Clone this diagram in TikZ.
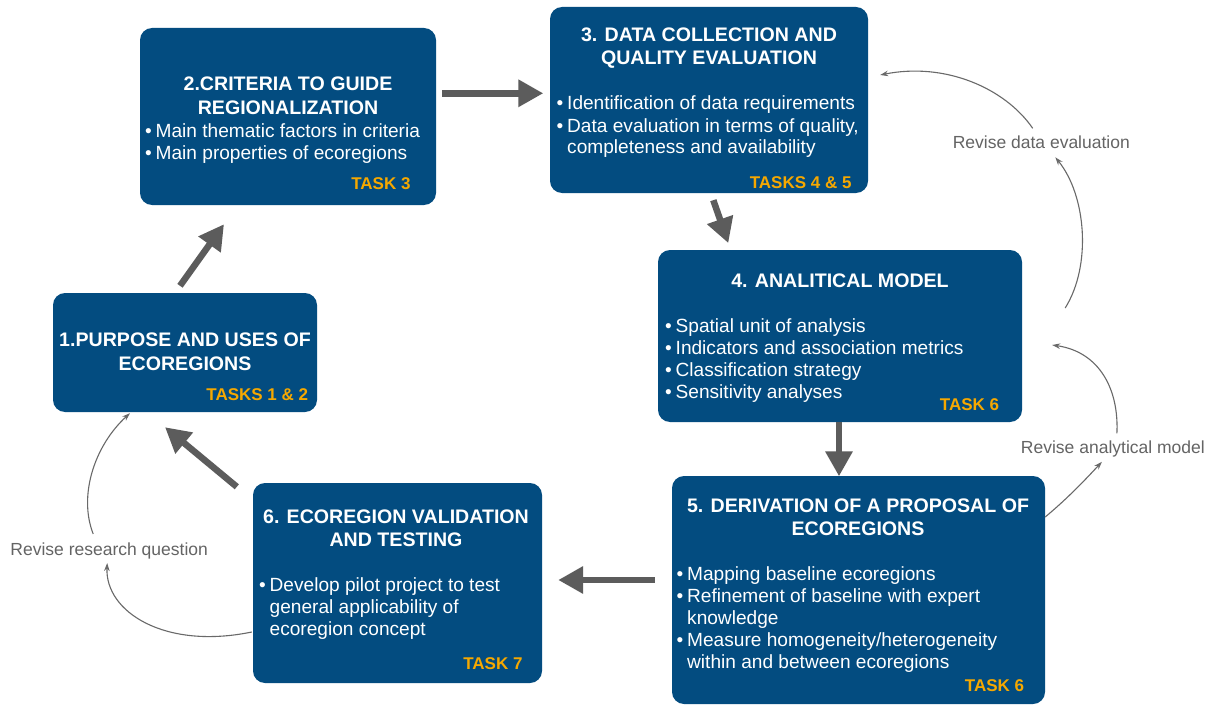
\documentclass[tikz,border=0pt]{standalone}
\usepackage{fontspec}
\setmainfont{Liberation Sans}
\usetikzlibrary{arrows.meta}

\definecolor{boxblue}{RGB}{3,76,128}
\definecolor{taskorange}{RGB}{246,168,0}
\definecolor{flowgray}{RGB}{92,92,92}
\definecolor{loopgray}{RGB}{105,105,105}
\definecolor{labelgray}{RGB}{100,100,100}

% bullet with a fixed gap before the item text
\newcommand{\bul}{\makebox[10.5pt][l]{\textbullet}}

\begin{document}
\begin{tikzpicture}[x=1pt,y=-1pt,
  stage/.style={fill=boxblue, rounded corners=12pt, inner sep=0pt},
  head/.style={text=white, font=\fontsize{19.6}{24}\selectfont\bfseries, inner sep=0pt, anchor=base},
  item/.style={text=white, font=\fontsize{19.1}{22}\selectfont, inner sep=0pt, anchor=base west},
  task/.style={text=taskorange, font=\fontsize{17}{20}\selectfont\bfseries, inner sep=0pt, anchor=base east},
  note/.style={text=labelgray, font=\fontsize{17.5}{20}\selectfont, inner sep=0pt, anchor=base},
  flow/.style={draw=flowgray, line width=6.5pt, -{Triangle[length=25pt,width=26pt]}},
  loop/.style={draw=loopgray, line width=1.1pt, -{Stealth[length=8pt,width=5.5pt]}}
]
\fill[white] (0,0) rectangle (1216,706);
\useasboundingbox (0,0) rectangle (1216,706);

% ---- stage boxes ----
\node[stage, minimum width=264pt, minimum height=119pt] (b1) at (185,352.5) {};
\node[stage, minimum width=296pt, minimum height=177pt] (b2) at (288,116.5) {};
\node[stage, minimum width=318pt, minimum height=186pt] (b3) at (709,100) {};
\node[stage, minimum width=364pt, minimum height=172pt] (b4) at (840,336) {};
\node[stage, minimum width=373pt, minimum height=228pt] (b5) at (858.5,590) {};
\node[stage, minimum width=289pt, minimum height=200pt] (b6) at (397.5,583) {};

% ---- stage 1 ----
\node[head] (b1h1) at (185,346.7) {1.PURPOSE AND USES OF};
\node[head] (b1h2) at (185,370.7) {ECOREGIONS};
\node[task] (b1k) at (308.3,400.7) {TASKS 1 \& 2};

% ---- stage 2 ----
\node[head] (b2h1) at (288,90.7) {2.CRITERIA TO GUIDE};
\node[head] (b2h2) at (288,114.3) {REGIONALIZATION};
\node[item] (b2i1) at (145,137.3) {\bul Main thematic factors in criteria};
\node[item] (b2i2) at (145,159.3) {\bul Main properties of ecoregions};
\node[task] (b2k) at (410.7,189.3) {TASK 3};

% ---- stage 3 ----
\node[head] (b3h1) at (709,41.7) {3. DATA COLLECTION AND};
\node[head] (b3h2) at (709,65) {QUALITY EVALUATION};
\node[item] (b3i1) at (556.5,110) {\bul Identification of data requirements};
\node[item] (b3i2) at (556.5,132.3) {\bul Data evaluation in terms of quality,};
\node[item] (b3i3) at (567,154) {completeness and availability};
\node[task] (b3k) at (851.7,188.3) {TASKS 4 \& 5};

% ---- stage 4 ----
\node[head] (b4h1) at (840,287.7) {4. ANALITICAL MODEL};
\node[item] (b4i1) at (665,332.7) {\bul Spatial unit of analysis};
\node[item] (b4i2) at (665,354.3) {\bul Indicators and association metrics};
\node[item] (b4i3) at (665,376.7) {\bul Classification strategy};
\node[item] (b4i4) at (665,398.3) {\bul Sensitivity analyses};
\node[task] (b4k) at (999.3,410) {TASK 6};

% ---- stage 5 ----
\node[head] (b5h1) at (858,512.7) {5. DERIVATION OF A PROPOSAL OF};
\node[head] (b5h2) at (858,535) {ECOREGIONS};
\node[item] (b5i1) at (676.5,580) {\bul Mapping baseline ecoregions};
\node[item] (b5i2) at (676.5,602) {\bul Refinement of baseline with expert};
\node[item] (b5i3) at (687,624.3) {knowledge};
\node[item] (b5i4) at (676.5,646.7) {\bul Measure homogeneity/heterogeneity};
\node[item] (b5i5) at (687,668.3) {within and between ecoregions};
\node[task] (b5k) at (1024.3,691.7) {TASK 6};

% ---- stage 6 ----
\node[head] (b6h1) at (396,523.3) {6. ECOREGION VALIDATION};
\node[head] (b6h2) at (396,546.7) {AND TESTING};
\node[item] (b6i1) at (259,591.7) {\bul Develop pilot project to test};
\node[item] (b6i2) at (269.5,613.3) {general applicability of};
\node[item] (b6i3) at (269.5,635.7) {ecoregion concept};
\node[task] (b6k) at (522.7,669.3) {TASK 7};

% ---- feedback labels ----
\node[note] (lrq) at (109.2,555) {Revise research question};
\node[note] (ldata) at (1041.3,148.3) {Revise data evaluation};
\node[note] (lam) at (1112.9,453.3) {Revise analytical model};

% ---- main flow ----
\draw[flow] ([shift={(6,-23.2)}]b2.east) -- ([shift={(-6.5,-6.7)}]b3.west);
\draw[flow] ([shift={(4.3,7)}]b3.south) -- ([shift={(-111.7,-6.7)}]b4.north);
\draw[flow] ([shift={(-1,0)}]b4.south) -- ([shift={(-19.5,0.5)}]b5.north);
\draw[flow] ([shift={(-17,-10)}]b5.west) -- ([shift={(16,-3)}]b6.east);
\draw[flow] ([shift={(-16,4)}]b6.north west) -- ([shift={(-20,15)}]b1.south);
\draw[flow] ([shift={(-5,-7)}]b1.north) -- ([shift={(-64,19)}]b2.south);

% ---- feedback loops ----
\coordinate (fd) at ([shift={(43,-28)}]b4.east);
\draw[loop] ([shift={(-1,49)}]b6.west) .. controls (165,650) and (105,612) .. ([shift={(-2,8)}]lrq.base);
\draw[loop] ([shift={(-16,-21)}]lrq.base) .. controls (78,495) and (95,445) .. ([shift={(-55,1)}]b1.south);
\draw[loop] (fd) .. controls (1092,265) and (1086,195) .. ([shift={(14,9)}]ldata.base);
\draw[loop] ([shift={(-8.6,-20)}]ldata.base) .. controls (1005,88) and (945,62) .. ([shift={(12,-25)}]b3.east);
\draw[loop] ([shift={(0,-73)}]b5.east) .. controls (1068,498) and (1085,480) .. ([shift={(-11,8.5)}]lam.base);
\draw[loop] ([shift={(4,-20)}]lam.base) .. controls (1119,390) and (1100,352) .. ([shift={(30,9)}]b4.east);
\end{tikzpicture}
\end{document}
